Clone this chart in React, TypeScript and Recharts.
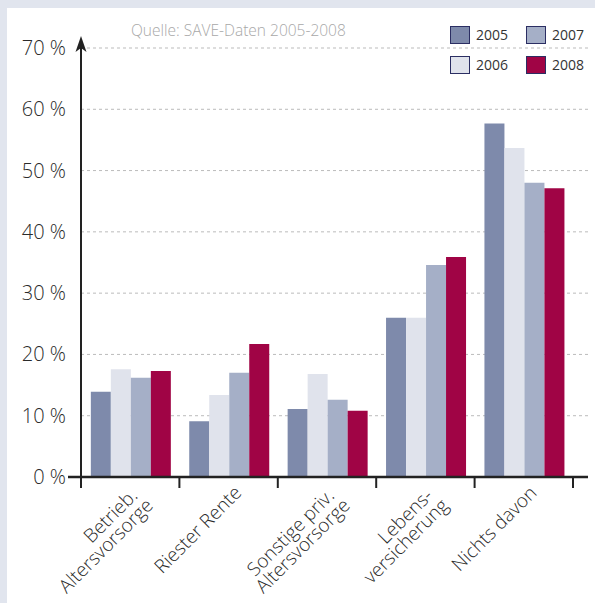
import React from 'react';
import { BarChart, Bar, XAxis, YAxis, CartesianGrid } from 'recharts';

const categories = ['Betrieb.\nAltersvorsorge', 'Riester Rente', 'Sonstige priv.\nAltersvorsorge', 'Lebens-\nversicherung', 'Nichts davon'];
const years = ['2005', '2006', '2007', '2008'];
const values2005 = [13.9, 9.1, 11.1, 26.0, 57.7];
const values2006 = [17.6, 13.4, 16.8, 26.0, 53.7];
const values2007 = [16.2, 17.0, 12.6, 34.6, 48.0];
const values2008 = [17.3, 21.7, 10.8, 35.9, 47.1];
const yTicks = [0, 10, 20, 30, 40, 50, 60, 70];

const COLORS: Record<string, string> = {
  '2005': '#7e8aab',
  '2006': '#e0e3ec',
  '2007': '#a5afc7',
  '2008': '#a00445',
};

const data = categories.map((c, i) => ({
  name: c,
  y2005: values2005[i],
  y2006: values2006[i],
  y2007: values2007[i],
  y2008: values2008[i],
}));

const W = 595;
const H = 603;
const PLOT_LEFT = 81;
const PLOT_TOP = 48;
const ZERO_Y = 477;
const BAND_RIGHT = 573;
const GRID_RIGHT = 590;
const X_AXIS_H = 30;
const FONT = '"Open Sans", "Noto Sans", sans-serif';

// rotated label: each line right-aligned, offsets along / across the text direction
const XTick = (props: any) => {
  const { x, payload } = props;
  const y = ZERO_Y;
  const lines: string[] = String(payload.value).split('\n');
  const single = lines.length === 1;
  return (
    <g transform={`rotate(-45, ${x}, ${y})`}>
      {lines.map((l, i) => {
        const a = single ? -2 : i === 0 ? -8 : -4;
        const b = single ? 22 : i === 0 ? 20 : 38;
        return (
          <text key={i} x={x + a} y={y + b} textAnchor="end" fontSize={19} fontWeight={300} fill="#2a2a2a" fontFamily={FONT}>
            {l}
          </text>
        );
      })}
    </g>
  );
};

const YTick = (props: any) => {
  const { x, y, payload } = props;
  return (
    <text x={x} y={y + 7} textAnchor="end" fontSize={20} fontWeight={300} fill="#2a2a2a" fontFamily={FONT}>
      {payload.value} %
    </text>
  );
};

const Axes = () => {
  const band = (BAND_RIGHT - PLOT_LEFT) / categories.length;
  const bounds = Array.from({ length: categories.length + 1 }, (_, i) => PLOT_LEFT + i * band);
  return (
    <svg width={W} height={H} style={{ position: 'absolute', left: 0, top: 0, pointerEvents: 'none' }}>
      <line x1={PLOT_LEFT} y1={44} x2={PLOT_LEFT} y2={ZERO_Y} stroke="#222" strokeWidth={2} />
      <polygon points={`${PLOT_LEFT},36 ${PLOT_LEFT - 5.5},52 ${PLOT_LEFT},48 ${PLOT_LEFT + 5.5},52`} fill="#222" />
      <line x1={68} y1={ZERO_Y} x2={588} y2={ZERO_Y} stroke="#222" strokeWidth={2.5} />
      {bounds.map((bx, i) => (
        <line key={i} x1={bx} y1={ZERO_Y} x2={bx} y2={488} stroke="#222" strokeWidth={2} />
      ))}
    </svg>
  );
};

const Legend = () => {
  const items = [
    { y: '2005', left: 450, top: 26 },
    { y: '2007', left: 526, top: 26 },
    { y: '2006', left: 450, top: 56 },
    { y: '2008', left: 526, top: 56 },
  ];
  return (
    <>
      {items.map((it) => (
        <div key={it.y} style={{ position: 'absolute', left: it.left, top: it.top, display: 'flex', alignItems: 'center' }}>
          <div style={{ width: 18, height: 16, background: COLORS[it.y], border: '1px solid #2b2e63' }} />
          <span style={{ marginLeft: 6, fontSize: 14, color: '#333', fontFamily: FONT, lineHeight: '18px' }}>{it.y}</span>
        </div>
      ))}
    </>
  );
};

export default function App() {
  return (
    <div style={{ position: 'absolute', left: 0, top: 0, width: W, height: H, background: '#e1e5ee', overflow: 'hidden' }}>
      <div style={{ position: 'absolute', left: 7, top: 8, width: W - 7, height: H - 8, background: '#fff' }} />
      <div style={{ position: 'absolute', left: 131, top: 19, fontSize: 15.5, fontWeight: 300, color: '#a8a8a8', fontFamily: FONT, whiteSpace: 'nowrap' }}>
        Quelle: SAVE-Daten 2005-2008
      </div>
      <Legend />
      <div style={{ position: 'absolute', left: 0, top: 0 }}>
        <BarChart
          width={W}
          height={H}
          data={data}
          margin={{ top: PLOT_TOP, right: W - GRID_RIGHT, bottom: H - ZERO_Y - X_AXIS_H, left: 0 }}
          barCategoryGap="10%"
          barGap={0}
        >
          <CartesianGrid vertical={false} stroke="#bbb" strokeDasharray="3 3" />
          <XAxis
            dataKey="name"
            height={X_AXIS_H}
            interval={0}
            axisLine={false}
            tickLine={false}
            tickSize={0}
            tickMargin={0}
            padding={{ left: 0, right: GRID_RIGHT - BAND_RIGHT }}
            tick={<XTick />}
          />
          <YAxis
            width={PLOT_LEFT}
            domain={[0, 70]}
            ticks={yTicks}
            axisLine={false}
            tickLine={false}
            tickSize={0}
            tickMargin={15}
            tick={<YTick />}
          />
          {years.map((yr) => (
            <Bar key={yr} dataKey={`y${yr}`} fill={COLORS[yr]} isAnimationActive={false} />
          ))}
        </BarChart>
      </div>
      <Axes />
    </div>
  );
}
